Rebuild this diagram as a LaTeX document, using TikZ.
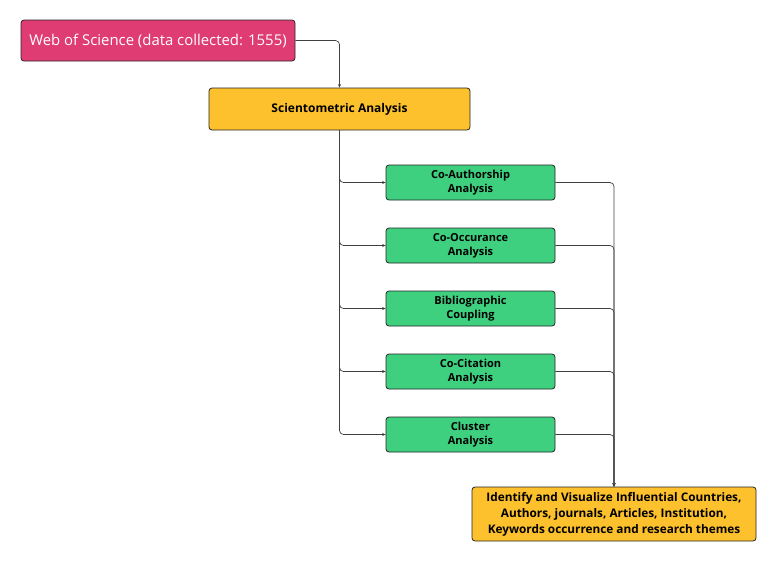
\documentclass[tikz,border=0pt]{standalone}
\usepackage{fontspec}
\setmainfont{Open Sans}
\usetikzlibrary{arrows.meta}

\definecolor{wosred}{HTML}{E03C74}
\definecolor{sciyellow}{HTML}{FCC12C}
\definecolor{stepgreen}{HTML}{3ECF7F}

\begin{document}
\begin{tikzpicture}[x=1pt, y=-1pt,
  box/.style={draw=black!85, line width=0.8pt, rounded corners=3pt, align=center, inner sep=0pt},
  greenbox/.style={box, fill=stepgreen, minimum width=169pt, minimum height=35pt, font=\bfseries\fontsize{11}{14}\selectfont},
  link/.style={draw=black!75, line width=0.7pt, rounded corners=4pt, -{Stealth[length=3.5pt,width=3pt]}}]

\useasboundingbox (0,0) rectangle (777,560);

\node[box, fill=wosred, text=white, minimum width=274pt, minimum height=41pt, font=\fontsize{14.9}{17}\selectfont] (wos) at (158,40.5) {Web of Science (data collected: 1555)};

\node[box, fill=sciyellow, minimum width=261pt, minimum height=42pt, font=\bfseries\fontsize{12}{14}\selectfont] (sci) at (339.5,109) {Scientometric Analysis};

\node[greenbox] (coauth) at (470.5,182.5) {Co-Authorship\\Analysis};
\node[greenbox] (cooccur) at (470.5,245.5) {Co-Occurance\\Analysis};
\node[greenbox] (biblio) at (470.5,308.5) {Bibliographic\\Coupling};
\node[greenbox] (cocite) at (470.5,371.5) {Co-Citation\\Analysis};
\node[greenbox] (cluster) at (470.5,434.5) {Cluster\\Analysis};

\node[box, fill=sciyellow, minimum width=284pt, minimum height=54pt, font=\bfseries\fontsize{11.8}{16}\selectfont] (result) at (614,514) {Identify and Visualize Influential Countries,\\Authors, journals, Articles, Institution,\\Keywords occurrence and research themes};

\draw[link] (wos.east) -| (sci.north);

\foreach \n in {coauth,cooccur,biblio,cocite,cluster}{
  \draw[link] (sci.south) |- (\n.west);
  \draw[link] (\n.east) -| (result.north);
}
\end{tikzpicture}
\end{document}
